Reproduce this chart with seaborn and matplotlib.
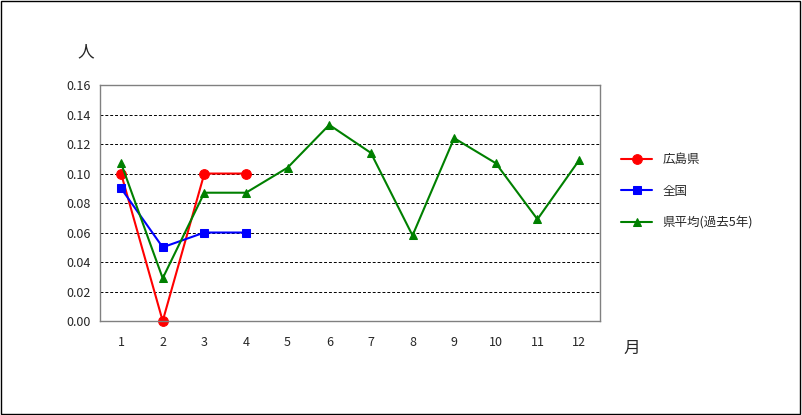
import matplotlib
matplotlib.use('Agg')
import matplotlib.pyplot as plt
import seaborn as sns
import pandas as pd

sns.set_style('white')
plt.rcParams['font.family'] = ['Noto Sans CJK JP', 'DejaVu Sans']

months = list(range(1, 13))
hiroshima = [0.10, 0.00, 0.10, 0.10]
national = [0.09, 0.05, 0.06, 0.06]
avg5 = [0.107, 0.029, 0.087, 0.087, 0.104, 0.133, 0.114, 0.058, 0.124, 0.107, 0.069, 0.109]
yticks = [0.00, 0.02, 0.04, 0.06, 0.08, 0.10, 0.12, 0.14, 0.16]

fig = plt.figure(figsize=(8.02, 4.15), dpi=100)
fig.patches.append(plt.Rectangle((0.001, 0.002), 0.997, 0.995, transform=fig.transFigure,
                                 fill=False, edgecolor='black', lw=1))
ax = fig.add_axes([0.125, 0.2265, 0.623, 0.5685])

sns.lineplot(x=months[:4], y=hiroshima, ax=ax, color='#ff0000', marker='o', markersize=7,
             markeredgecolor='#ff0000', lw=1.5, label='広島県')
sns.lineplot(x=months[:4], y=national, ax=ax, color='#0000ff', marker='s', markersize=6,
             markeredgecolor='#0000ff', lw=1.5, label='全国')
sns.lineplot(x=months, y=avg5, ax=ax, color='#008000', marker='^', markersize=6,
             markeredgecolor='#008000', lw=1.5, label='県平均(過去5年)')

ax.set_xlim(0.5, 12.5)
ax.set_ylim(0, 0.16)
ax.set_xticks(months)
ax.set_yticks(yticks)
ax.set_yticklabels([f'{v:.2f}' for v in yticks])
ax.tick_params(labelsize=9, length=3, direction='out')
ax.tick_params(axis='x', pad=8)
for v in yticks[1:-1]:
    ax.axhline(v, color='black', lw=0.7, ls=(0, (3, 2)), zorder=0)
for s in ax.spines.values():
    s.set_color('gray')
    s.set_linewidth(1)
ax.set_clip_on(False)
for l in ax.lines:
    l.set_clip_on(False)

fig.text(0.097, 0.865, '人', fontsize=12)
fig.text(0.778, 0.15, '月', fontsize=12)
ax.legend(loc='center left', bbox_to_anchor=(1.02, 0.55), frameon=False, fontsize=9,
          handlelength=2.5, labelspacing=1.5)

fig.savefig('out.png', dpi=100)
